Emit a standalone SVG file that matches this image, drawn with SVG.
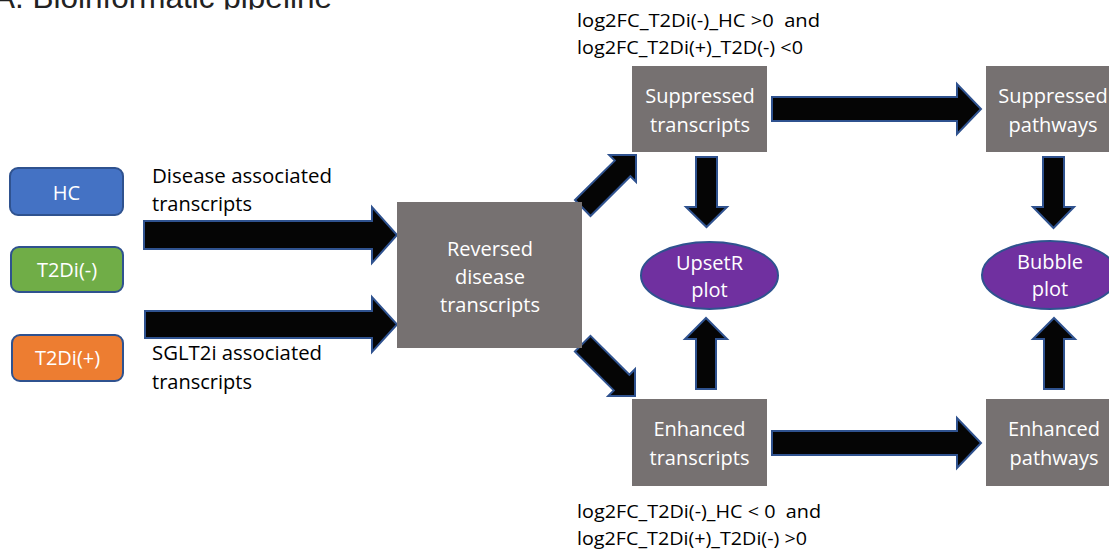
<svg xmlns="http://www.w3.org/2000/svg" width="1109" height="554" viewBox="0 0 1109 554">
<style>
.lbl{font-family:"Open Sans","Noto Sans","Liberation Sans",sans-serif;font-size:20px;fill:#000}
.small{font-family:"Open Sans","Noto Sans","Liberation Sans",sans-serif;font-size:18px;fill:#000;white-space:pre}
.wt{font-family:"Open Sans","Noto Sans","Liberation Sans",sans-serif;font-size:20px;fill:#fff;text-anchor:middle}
.grp{fill:#767171}
.pill{stroke:#2F528F;stroke-width:2}
.ell{fill:#7030A0;stroke:#2F528F;stroke-width:2}
.arr{fill:#050505;stroke:#2F528F;stroke-width:2;stroke-linejoin:miter}
.title{font-family:"Liberation Sans",Arial,sans-serif;font-size:31.5px;fill:#222}
</style>
<defs>
<clipPath id="tclip"><rect x="0" y="0" width="400" height="9.5"/></clipPath>
</defs>
<rect width="1109" height="554" fill="#fff"/>
<g id="title" clip-path="url(#tclip)">
<text class="title" x="-6" y="8">A. Bioinformatic pipeline</text>
</g>

<g id="connectors">
<polygon class="arr" points="144,221 372,221 372,207 397,235 372,263 372,249 144,249"/>
<polygon class="arr" points="145,311 372,311 372,297 397,324.5 372,352 372,338 145,338"/>
<polygon class="arr" points="575,200 614.8,160.6 609.2,155 636,155 636,181.8 630.4,176.2 590.5,216"/>
<polygon class="arr" points="590.5,335.9 629.4,374.8 635,369.2 635,396 608.2,396 613.8,390.4 574.9,351.5"/>
<polygon class="arr" points="772,97 957,97 957,84 981,109 957,134 957,121 772,121"/>
<polygon class="arr" points="772,431 957,431 957,418 981,443 957,468 957,455 772,455"/>
<polygon class="arr" points="696,157 717,157 717,207 727,207 706.5,227 686,207 696,207"/>
<polygon class="arr" points="696,389 716,389 716,339 727,339 706,318 685,339 696,339"/>
<polygon class="arr" points="1043,157 1064,157 1064,207 1074,207 1053.5,228 1033,207 1043,207"/>
<polygon class="arr" points="1044,389 1064,389 1064,339 1075,339 1054,318 1033,339 1044,339"/>
</g>

<g id="hc">
<rect class="pill" x="10" y="168" width="113" height="47" rx="8" fill="#4472C4"/>
<text class="wt" x="66.5" y="200">HC</text>
</g>
<g id="t2di-minus">
<rect class="pill" x="11" y="247" width="112" height="45" rx="8" fill="#70AD47"/>
<text class="wt" x="67" y="277">T2Di(-)</text>
</g>
<g id="t2di-plus">
<rect class="pill" x="12" y="335" width="111" height="46" rx="8" fill="#ED7D31"/>
<text class="wt" x="67.5" y="365">T2Di(+)</text>
</g>

<g id="label-disease">
<text class="lbl" x="152" y="183" textLength="180" lengthAdjust="spacingAndGlyphs">Disease associated</text>
<text class="lbl" x="152" y="211">transcripts</text>
</g>
<g id="label-sglt2i">
<text class="lbl" x="152" y="360" textLength="170" lengthAdjust="spacingAndGlyphs">SGLT2i associated</text>
<text class="lbl" x="152" y="389">transcripts</text>
</g>

<g id="reversed">
<rect class="grp" x="397" y="202" width="185" height="146"/>
<text class="wt" x="490" y="256">Reversed</text>
<text class="wt" x="490" y="284">disease</text>
<text class="wt" x="490" y="312">transcripts</text>
</g>

<g id="suppressed-transcripts">
<rect class="grp" x="632" y="66" width="135" height="86"/>
<text class="wt" x="700" y="103">Suppressed</text>
<text class="wt" x="700" y="132">transcripts</text>
</g>

<g id="enhanced-transcripts">
<rect class="grp" x="632" y="399" width="135" height="87"/>
<text class="wt" x="699.5" y="436">Enhanced</text>
<text class="wt" x="699.5" y="465">transcripts</text>
</g>

<g id="suppressed-pathways">
<rect class="grp" x="986" y="66" width="135" height="86"/>
<text class="wt" x="1053" y="103">Suppressed</text>
<text class="wt" x="1053" y="132">pathways</text>
</g>

<g id="enhanced-pathways">
<rect class="grp" x="986" y="399" width="135" height="87"/>
<text class="wt" x="1054" y="436">Enhanced</text>
<text class="wt" x="1054" y="465">pathways</text>
</g>

<g id="upsetr">
<ellipse class="ell" cx="709.5" cy="275.5" rx="68.5" ry="33.5"/>
<text class="wt" x="709.5" y="270">UpsetR</text>
<text class="wt" x="709.5" y="297">plot</text>
</g>

<g id="bubble">
<ellipse class="ell" cx="1050" cy="275" rx="68" ry="34"/>
<text class="wt" x="1050" y="269">Bubble</text>
<text class="wt" x="1050" y="296">plot</text>
</g>

<g id="label-suppressed">
<text class="small" x="577" y="27" textLength="243" lengthAdjust="spacingAndGlyphs">log2FC_T2Di(-)_HC &gt;0  and</text>
<text class="small" x="577" y="54" textLength="226" lengthAdjust="spacingAndGlyphs">log2FC_T2Di(+)_T2D(-) &lt;0</text>
</g>
<g id="label-enhanced">
<text class="small" x="577" y="518" textLength="244" lengthAdjust="spacingAndGlyphs">log2FC_T2Di(-)_HC &lt; 0  and</text>
<text class="small" x="577" y="545" textLength="230" lengthAdjust="spacingAndGlyphs">log2FC_T2Di(+)_T2Di(-) &gt;0</text>
</g>
</svg>
